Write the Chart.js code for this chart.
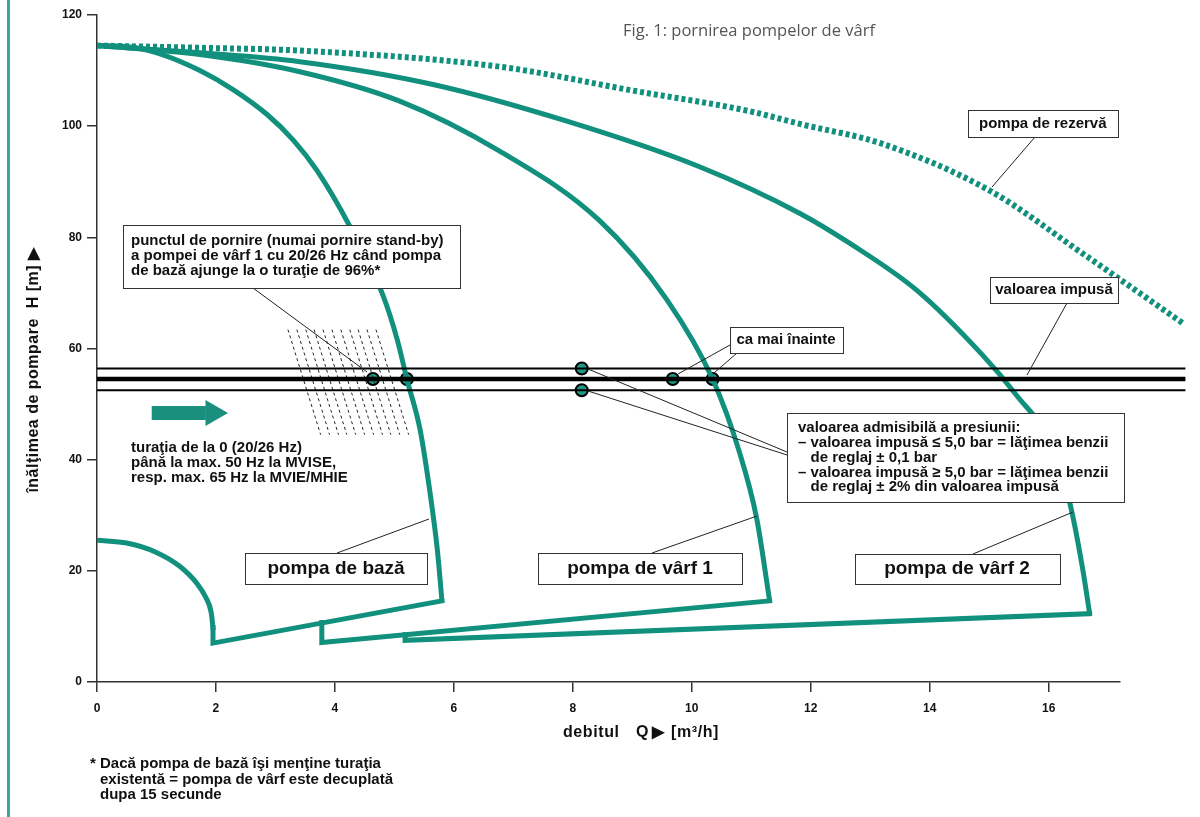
<!DOCTYPE html>
<html>
<head>
<meta charset="utf-8">
<script src="https://cdn.jsdelivr.net/npm/chart.js@4.4.0/dist/chart.umd.min.js"></script>
<style>
	html, body { margin: 0; padding: 0; background: #fff; }
	#wrap { position: relative; width: 1200px; height: 817px; }
</style>
</head>
<body>
<div id="wrap"><canvas id="pompe"></canvas></div>
<script>
// axe
var xTicks = [0, 2, 4, 6, 8, 10, 12, 14, 16];
var yTicks = [0, 20, 40, 60, 80, 100, 120];

// pompa de bază: curba max, linia de jos, arcul de turaţie minimă
var bazaMaxQ = [0, 0.60, 1.06, 1.73, 2.30, 2.86, 3.30, 3.70, 4.25, 4.81, 5.05, 5.21, 5.43, 5.60, 5.72, 5.80];
var bazaMaxH = [114.5, 114.2, 113.0, 110.0, 106.5, 102.1, 97.5, 92.0, 82.0, 69.5, 61.5, 54.5, 45.5, 34.0, 24.0, 14.6];
var bazaMinQ = [5.80, 1.95, 1.95];
var bazaMinH = [14.6, 7.0, 9.8];
var bazaArcQ = [0, 0.50, 0.98, 1.38, 1.69, 1.83, 1.92, 1.95];
var bazaArcH = [25.5, 25.0, 23.4, 20.9, 17.6, 15.2, 12.5, 9.8];

// pompa de vârf 1
var varf1MaxQ = [0, 1.73, 3.41, 5.09, 6.77, 8.45, 9.58, 10.35, 10.80, 11.09, 11.31];
var varf1MaxH = [114.5, 112.9, 109.8, 104.5, 95.5, 83.0, 68.8, 54.5, 41.4, 29.5, 14.6];
var varf1MinQ = [11.31, 3.78, 3.78];
var varf1MinH = [14.6, 7.1, 10.7];

// pompa de vârf 2
var varf2MaxQ = [0, 1.73, 3.41, 5.65, 7.90, 10.13, 11.82, 12.66, 13.78, 14.89, 15.46, 16.02, 16.35, 16.57, 16.69];
var varf2MaxH = [114.5, 113.2, 111.6, 107.5, 100.9, 92.7, 84.3, 78.9, 70.5, 58.8, 51.6, 43.2, 32.5, 20.5, 12.3];
var varf2MinQ = [16.69, 5.18, 5.18];
var varf2MinH = [12.3, 7.5, 8.5];

// pompa de rezervă (punctat)
var rezervaQ = [0, 1.73, 3.41, 6.77, 9.01, 10.97, 11.82, 13.21, 15.01, 16.57, 18.25];
var rezervaH = [114.5, 114.1, 113.6, 110.7, 106.4, 102.7, 100.4, 96.8, 88.4, 77.1, 64.6];

// banda de reglaj: limita sus, valoarea impusă, limita jos
var bandaQ = [0, 18.3];
var bandaH = [56.4, 54.5, 52.5];

// puncte marcate
var punctQ = [4.64, 5.21, 8.15, 8.15, 9.68, 10.35];
var punctH = [54.5, 54.5, 56.4, 52.5, 54.5, 54.5];

// haşura turaţiei (linii întrerupte)
var hasuraSusQ = [3.21, 3.36, 3.51, 3.65, 3.80, 3.95, 4.10, 4.25, 4.39, 4.54, 4.69];
var hasuraJosQ = [3.76, 3.91, 4.06, 4.20, 4.35, 4.50, 4.65, 4.80, 4.94, 5.09, 5.24];
var hasuraH = [63.4, 44.5];

// săgeata
var sageataQ = [0.92, 1.83];
var sageataVarfQ = 1.95;
var sageataH = 48.4;

var TEAL = '#11907e';
var FAM = "'Liberation Sans', Arial, sans-serif";

function pts(q, h) {
	return q.map(function(v, i) {
		return { x: v, y: Array.isArray(h) ? h[i] : h };
	});
}

function curve(q, h, extra) {
	var ds = {
		data: pts(q, h),
		showLine: true,
		pointRadius: 0,
		borderColor: TEAL,
		borderWidth: 5,
		cubicInterpolationMode: 'monotone',
		borderCapStyle: 'butt',
		borderJoinStyle: 'miter'
	};
	for (var k in extra) ds[k] = extra[k];
	return ds;
}

function straight(q, h, extra) {
	var ds = curve(q, h, extra);
	ds.cubicInterpolationMode = 'default';
	ds.tension = 0;
	return ds;
}

var datasets = [];

// banda
datasets.push(straight(bandaQ, [bandaH[0], bandaH[0]], { borderColor: '#000', borderWidth: 2, clip: false }));
datasets.push(straight(bandaQ, [bandaH[1], bandaH[1]], { borderColor: '#000', borderWidth: 4.5, clip: false }));
datasets.push(straight(bandaQ, [bandaH[2], bandaH[2]], { borderColor: '#000', borderWidth: 2, clip: false }));

// haşura
hasuraSusQ.forEach(function(q, i) {
	datasets.push(straight([q, hasuraJosQ[i]], hasuraH, { borderColor: '#222', borderWidth: 1, borderDash: [3, 3] }));
});

// curbele pompelor
datasets.push(curve(rezervaQ, rezervaH, { borderWidth: 6, borderDash: [4, 3], clip: false }));
datasets.push(curve(varf2MaxQ, varf2MaxH));
datasets.push(straight(varf2MinQ, varf2MinH, { borderCapStyle: 'square' }));
datasets.push(curve(varf1MaxQ, varf1MaxH));
datasets.push(straight(varf1MinQ, varf1MinH, { borderCapStyle: 'square' }));
datasets.push(curve(bazaMaxQ, bazaMaxH));
datasets.push(straight(bazaMinQ, bazaMinH, { borderCapStyle: 'square' }));
datasets.push(curve(bazaArcQ, bazaArcH, { borderCapStyle: 'square' }));

// săgeata
datasets.push(straight(sageataQ, [sageataH, sageataH], { borderWidth: 14, borderColor: '#1a8f7e' }));
datasets.push({
	data: pts([sageataVarfQ], sageataH),
	pointStyle: 'triangle',
	rotation: 90,
	pointRadius: 15,
	backgroundColor: '#1a8f7e',
	borderColor: '#1a8f7e',
	borderWidth: 0
});

// puncte
datasets.push({
	data: pts(punctQ, punctH),
	pointRadius: 6,
	backgroundColor: '#1c9a86',
	borderColor: '#000',
	borderWidth: 2
});

function box(ctx, x1, y1, x2, y2) {
	ctx.fillStyle = '#fff';
	ctx.fillRect(x1, y1, x2 - x1, y2 - y1);
	ctx.strokeStyle = '#333';
	ctx.lineWidth = 1;
	ctx.strokeRect(x1 + 0.5, y1 + 0.5, x2 - x1, y2 - y1);
}

function leader(ctx, x1, y1, x2, y2) {
	ctx.strokeStyle = '#222';
	ctx.lineWidth = 1;
	ctx.beginPath();
	ctx.moveTo(x1, y1);
	ctx.lineTo(x2, y2);
	ctx.stroke();
}

function lines(ctx, arr, x, y, step) {
	arr.forEach(function(t, i) {
		ctx.fillText(t, x, y + i * step);
	});
}

var adnotari = {
	id: 'adnotari',
	afterDatasetsDraw: function(chart) {
		var ctx = chart.ctx;
		ctx.save();

		// bara din stânga paginii
		ctx.fillStyle = '#3ba596';
		ctx.fillRect(7, 0, 3, 817);

		// titlul figurii
		ctx.fillStyle = '#555';
		ctx.font = "16.5px 'Open Sans', sans-serif";
		ctx.textBaseline = 'middle';
		ctx.textAlign = 'left';
		ctx.fillText('Fig. 1: pornirea pompelor de vârf', 623, 31);

		// linii de legătură
		leader(ctx, 253, 288, 367, 372);
		leader(ctx, 337, 553, 429, 519);
		leader(ctx, 652, 553, 757, 516);
		leader(ctx, 973, 554, 1073, 512);
		leader(ctx, 1035, 137, 992, 187);
		leader(ctx, 1067, 303, 1027, 375);
		leader(ctx, 730, 345, 678, 374);
		leader(ctx, 737, 353, 714, 373);
		leader(ctx, 588, 369, 787, 452);
		leader(ctx, 588, 391, 787, 455);

		// casete
		box(ctx, 123, 225, 460, 288);
		box(ctx, 245, 553, 427, 584);
		box(ctx, 538, 553, 742, 584);
		box(ctx, 855, 554, 1060, 584);
		box(ctx, 968, 110, 1118, 137);
		box(ctx, 990, 277, 1118, 303);
		box(ctx, 730, 327, 843, 353);
		box(ctx, 787, 413, 1124, 502);

		ctx.fillStyle = '#111';
		ctx.font = 'bold 15px ' + FAM;
		ctx.textAlign = 'left';
		lines(ctx, [
			'punctul de pornire (numai pornire stand-by)',
			'a pompei de vârf 1 cu 20/26 Hz când pompa',
			'de bază ajunge la o turaţie de 96%*'
		], 131, 241, 15);
		lines(ctx, [
			'turaţia de la 0 (20/26 Hz)',
			'până la max. 50 Hz la MVISE,',
			'resp. max. 65 Hz la MVIE/MHIE'
		], 131, 448, 15);
		lines(ctx, [
			'valoarea admisibilă a presiunii:',
			'– valoarea impusă ≤ 5,0 bar = lăţimea benzii',
			'   de reglaj ± 0,1 bar',
			'– valoarea impusă ≥ 5,0 bar = lăţimea benzii',
			'   de reglaj ± 2% din valoarea impusă'
		], 798, 428, 14.8);
		ctx.fillText('pompa de rezervă', 979, 124);
		ctx.fillText('* Dacă pompa de bază îşi menţine turaţia', 90, 764);
		lines(ctx, [
			'existentă = pompa de vârf este decuplată',
			'dupa 15 secunde'
		], 100, 780, 15);

		ctx.textAlign = 'center';
		ctx.fillText('valoarea impusă', 1054, 290);
		ctx.fillText('ca mai înainte', 786, 340);

		// titlul axei orizontale
		ctx.textAlign = 'left';
		ctx.font = 'bold 16px ' + FAM;
		ctx.letterSpacing = '0.6px';
		ctx.fillText('debitul', 563, 733);
		ctx.fillText('Q', 636, 733);
		ctx.fillText('▶', 652, 733);
		ctx.fillText('[m³/h]', 671, 733);

		ctx.textAlign = 'center';
		ctx.letterSpacing = '0px';
		ctx.font = 'bold 19px ' + FAM;
		ctx.fillText('pompa de bază', 336, 569);
		ctx.fillText('pompa de vârf 1', 640, 569);
		ctx.fillText('pompa de vârf 2', 957, 569);

		// titlul axei verticale
		ctx.font = 'bold 16px ' + FAM;
		ctx.letterSpacing = '0.5px';
		ctx.translate(34, 370);
		ctx.rotate(-Math.PI / 2);
		ctx.fillText('înălţimea de pompare  H [m] ▶', 0, 0);

		ctx.restore();
	}
};

var tickFont = { family: FAM, size: 12, weight: 'bold' };

new Chart(document.getElementById('pompe').getContext('2d'), {
	type: 'scatter',
	data: { datasets: datasets },
	options: {
		responsive: true,
		maintainAspectRatio: false,
		animation: false,
		layout: { padding: { left: 0, top: 12, right: 80, bottom: 0 } },
		plugins: {
			legend: { display: false },
			tooltip: { enabled: false }
		},
		scales: {
			x: {
				type: 'linear',
				min: 0,
				max: 17.2,
				afterBuildTicks: function(scale) {
					scale.ticks = xTicks.map(function(v) { return { value: v }; });
				},
				afterFit: function(scale) { scale.height = 135; },
				grid: { drawOnChartArea: false, color: '#333', lineWidth: 1.5, tickLength: 10 },
				border: { color: '#333', width: 1.5 },
				ticks: { font: tickFont, color: '#111', padding: 9, maxRotation: 0 }
			},
			y: {
				type: 'linear',
				min: 0,
				max: 120,
				afterBuildTicks: function(scale) {
					scale.ticks = yTicks.map(function(v) { return { value: v }; });
				},
				afterFit: function(scale) { scale.width = 97; },
				grid: { drawOnChartArea: false, color: '#333', lineWidth: 1.5, tickLength: 10 },
				border: { color: '#333', width: 1.5 },
				ticks: { font: tickFont, color: '#111', padding: 5 }
			}
		}
	},
	plugins: [adnotari]
});
</script>
</body>
</html>
